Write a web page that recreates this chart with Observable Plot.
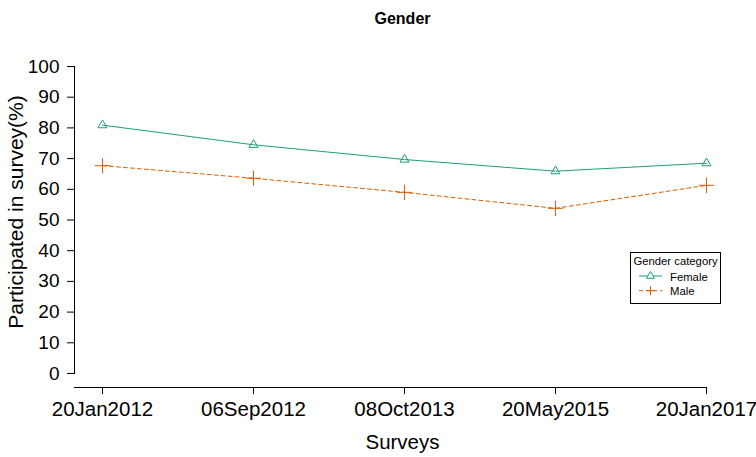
<!DOCTYPE html>
<html><head><meta charset="utf-8">
<script src="https://cdn.jsdelivr.net/npm/d3@7"></script>
<script src="https://cdn.jsdelivr.net/npm/@observablehq/plot@0.6"></script>
<style>
body{margin:0;background:#fff;}
#wrap{position:relative;width:756px;height:457px;font-family:"Liberation Sans",Arial,sans-serif;}
#legend{position:absolute;left:630px;top:252px;}
</style>
</head><body><div id="wrap"></div>
<script>
const surveys = ["20Jan2012", "06Sep2012", "08Oct2013", "20May2015", "20Jan2017"];
const female = [80.9, 74.5, 69.7, 65.9, 68.5];
const male = [67.7, 63.6, 59.0, 53.8, 61.3];
const yTicks = [0, 10, 20, 30, 40, 50, 60, 70, 80, 90, 100];
const genders = ["Female", "Male"];
const colors = ["#1b9e77", "#d95f02"];

const femaleData = surveys.map((s, i) => ({survey: s, value: female[i]}));
const maleData = surveys.map((s, i) => ({survey: s, value: male[i]}));

const chart = Plot.plot({
  width: 756, height: 457,
  marginLeft: 74, marginRight: 50, marginTop: 66, marginBottom: 84,
  style: {fontFamily: '"Liberation Sans", Arial, sans-serif', background: "#fff", color: "#000", overflow: "visible"},
  x: {type: "point", domain: surveys, padding: 0.0824, align: 1},
  y: {domain: [0, 100]},
  marks: [
    Plot.frame({anchor: "left", stroke: "#000"}),
    Plot.ruleY([0], {dy: 14, stroke: "#000"}),
    Plot.axisY({ticks: yTicks, tickSize: 7, tickPadding: 8, fontSize: 19, label: null, stroke: "#000"}),
    Plot.axisX({tickSize: 7, tickPadding: 7, dy: 14, fontSize: 20.5, label: null, stroke: "#000"}),
    Plot.line(femaleData, {x: "survey", y: "value", stroke: colors[0], strokeWidth: 1}),
    Plot.line(maleData, {x: "survey", y: "value", stroke: colors[1], strokeWidth: 1, strokeDasharray: "4,3"}),
    Plot.dot(femaleData, {x: "survey", y: "value", symbol: "triangle2", r: 4.3, stroke: colors[0], fill: "none", strokeWidth: 1}),
    Plot.dot(maleData, {x: "survey", y: "value", symbol: "plus", r: 5, stroke: colors[1], fill: "none", strokeWidth: 1}),
    Plot.text(["Gender"], {text: d => d, frameAnchor: "top", lineAnchor: "middle", textAnchor: "middle", dx: 12, dy: -48, fontWeight: "bold", fontSize: 16}),
    Plot.text(["Surveys"], {text: d => d, frameAnchor: "bottom", lineAnchor: "middle", textAnchor: "middle", dx: 12, dy: 69, fontSize: 20.5}),
    Plot.text(["Participated in survey(%)"], {text: d => d, frameAnchor: "left", lineAnchor: "middle", textAnchor: "middle", rotate: -90, dx: -58, dy: -8, fontSize: 21})
  ]
});
const wrap = document.getElementById("wrap");
wrap.appendChild(chart);

// legend
const lg = document.createElement("div");
lg.id = "legend";
const svgNS = "http://www.w3.org/2000/svg";
const s = document.createElementNS(svgNS, "svg");
s.setAttribute("width", 92); s.setAttribute("height", 53);
s.style.fontFamily = '"Liberation Sans", Arial, sans-serif';
s.innerHTML = `<rect x="0.5" y="0.5" width="90" height="51" fill="#fff" stroke="#000"/>
<text x="45.5" y="13" text-anchor="middle" font-size="11.3">Gender category</text>`;
genders.forEach((g, i) => {
  const y = 24 + i * 14.7;
  s.innerHTML += `<line x1="9" x2="32" y1="${y}" y2="${y}" stroke="${colors[i]}" ${i === 1 ? 'stroke-dasharray="4,3"' : ''}/>` +
    (i === 0
      ? `<path d="M20.5,${y - 4.6}L24.4,${y + 2.3}L16.6,${y + 2.3}Z" fill="#fff" stroke="${colors[i]}"/>`
      : `<path d="M16,${y}H25M20.5,${y - 4.5}V${y + 4.5}" stroke="${colors[i]}"/>`) +
    `<text x="40" y="${y + 4.5}" font-size="11.3">${g}</text>`;
});
lg.appendChild(s);
wrap.appendChild(lg);
</script>
</body></html>
